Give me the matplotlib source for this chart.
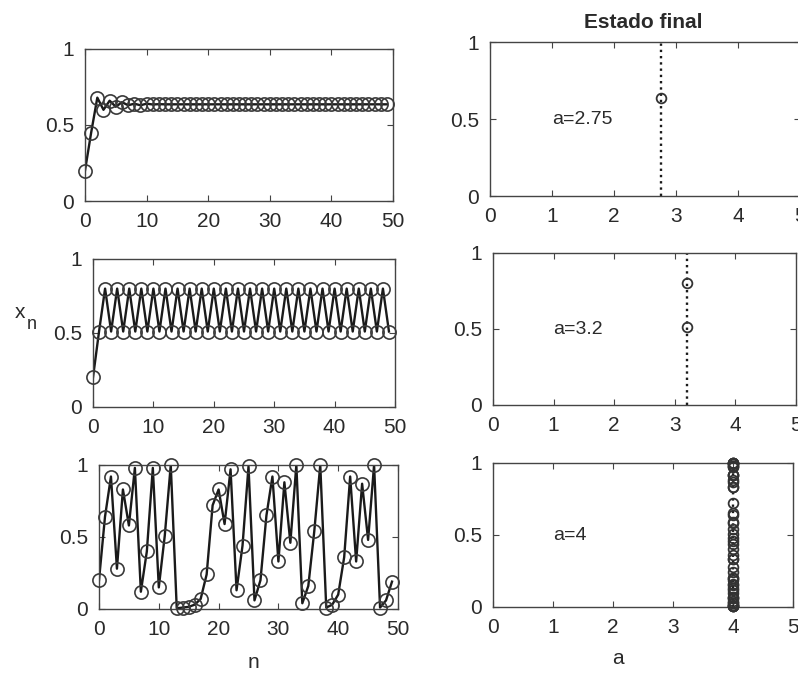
import matplotlib
matplotlib.use("Agg")
import matplotlib.pyplot as plt
import numpy as np

plt.rcParams['font.family'] = ['Liberation Sans', 'DejaVu Sans']

# ---- data ----
n_vals = list(range(50))
x_a275 = [0.20, 0.45, 0.68, 0.60, 0.66, 0.62, 0.65, 0.63, 0.64, 0.63,
          0.64, 0.635, 0.637, 0.636, 0.636, 0.636, 0.636, 0.636, 0.636, 0.636,
          0.636, 0.636, 0.636, 0.636, 0.636, 0.636, 0.636, 0.636, 0.636, 0.636,
          0.636, 0.636, 0.636, 0.636, 0.636, 0.636, 0.636, 0.636, 0.636, 0.636,
          0.636, 0.636, 0.636, 0.636, 0.636, 0.636, 0.636, 0.636, 0.636, 0.636]
x_a32 = [0.20, 0.51, 0.80, 0.51, 0.80, 0.51, 0.80, 0.51, 0.80, 0.51,
         0.80, 0.51, 0.80, 0.51, 0.80, 0.51, 0.80, 0.51, 0.80, 0.51,
         0.80, 0.51, 0.80, 0.51, 0.80, 0.51, 0.80, 0.51, 0.80, 0.51,
         0.80, 0.51, 0.80, 0.51, 0.80, 0.51, 0.80, 0.51, 0.80, 0.51,
         0.80, 0.51, 0.80, 0.51, 0.80, 0.51, 0.80, 0.51, 0.80, 0.51]
x_a4 = [0.20, 0.64, 0.92, 0.28, 0.83, 0.58, 0.98, 0.12, 0.40, 0.98,
        0.15, 0.51, 1.00, 0.005, 0.01, 0.015, 0.03, 0.07, 0.24, 0.72,
        0.83, 0.59, 0.97, 0.13, 0.44, 0.99, 0.06, 0.20, 0.65, 0.92,
        0.33, 0.88, 0.46, 1.00, 0.04, 0.16, 0.54, 1.00, 0.01, 0.03,
        0.10, 0.36, 0.92, 0.33, 0.87, 0.48, 1.00, 0.01, 0.06, 0.19]

a_values = [2.75, 3.2, 4.0]
a_labels = ['a=2.75', 'a=3.2', 'a=4']
final_a275 = [0.636]
final_a32 = [0.80, 0.515]
final_a4 = x_a4

n_ticks = [0, 10, 20, 30, 40, 50]
a_ticks = [0, 1, 2, 3, 4, 5]
y_ticks = [0, 0.5, 1]
y_ticklabels = ['0', '0.5', '1']

W, H = 798, 673
fig = plt.figure(figsize=(W / 100, H / 100), dpi=100)
fig.patch.set_facecolor('white')

def rect(x0, y0, x1, y1):
    return [x0 / W, 1 - y1 / H, (x1 - x0) / W, (y1 - y0) / H]

left_rects = [rect(85, 49, 393, 201), rect(93, 259, 395, 407), rect(99, 465, 398, 609)]
right_rects = [rect(490, 42, 800, 196), rect(493, 253, 796, 405), rect(493, 463, 793, 607)]

TXT = '#2a2a2a'
SP = '#444444'

def style(ax, xt):
    ax.set_ylim(0, 1)
    ax.set_yticks(y_ticks)
    ax.set_yticklabels(y_ticklabels)
    ax.set_xticks(xt)
    ax.set_xticklabels([str(t) for t in xt])
    ax.tick_params(direction='in', top=True, right=True, length=4, width=0.8,
                   colors=SP, labelcolor=TXT, labelsize=15, pad=8)
    for s in ax.spines.values():
        s.set_color(SP)
        s.set_linewidth(1.0)

series = [x_a275, x_a32, x_a4]
for r, ys in zip(left_rects, series):
    ax = fig.add_axes(r)
    ax.plot(n_vals, ys, '-', color='#1a1a1a', lw=1.7, zorder=2)
    ax.plot(n_vals, ys, 'o', mfc='none', mec='#3a3a3a', mew=1.2, ms=9.5, zorder=3,
            clip_on=False)
    ax.set_xlim(0, 50)
    style(ax, n_ticks)

finals = [final_a275, final_a32, final_a4]
for r, a, lab, fv in zip(right_rects, a_values, a_labels, finals):
    ax = fig.add_axes(r)
    ax.plot([a, a], [0, 1], ':', color='#1a1a1a', lw=1.7, zorder=2)
    ax.plot([a] * len(fv), fv, 'o', mfc='none', mec='#333333', mew=1.3, ms=7,
            zorder=3, clip_on=False)
    ax.set_xlim(0, 5)
    ax.text(1.0, 0.5, lab, fontsize=14, color=TXT, va='center', ha='left')
    style(ax, a_ticks)

fig.text(643 / W, 1 - 22 / H, 'Estado final', fontsize=15, fontweight='bold',
         color=TXT, ha='center', va='center')
fig.text(20 / W, 1 - 312 / H, 'x', fontsize=15, color=TXT, ha='center', va='center')
fig.text(32 / W, 1 - 324 / H, 'n', fontsize=13, color=TXT, ha='center', va='center')
fig.text(253 / W, 1 - 662 / H, 'n', fontsize=15, color=TXT, ha='center', va='center')
fig.text(618 / W, 1 - 658 / H, 'a', fontsize=15, color=TXT, ha='center', va='center')

fig.savefig('out.png', dpi=100, facecolor='white')
